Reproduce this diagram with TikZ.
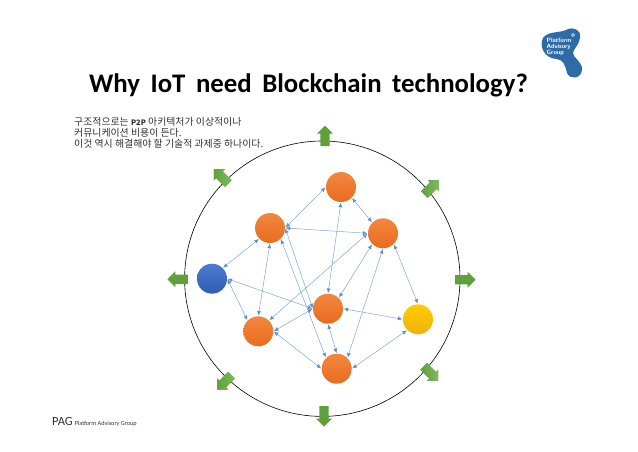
\documentclass[tikz,border=0pt]{standalone}
\usepackage{fontspec}
\setmainfont{Carlito}
\newfontfamily\krfont{Noto Sans CJK KR}
\usetikzlibrary{arrows.meta,shapes.arrows}
\definecolor{LinkClr}{RGB}{124,168,212}
\definecolor{TipClr}{RGB}{92,146,204}
\definecolor{OrangeTopClr}{RGB}{243,135,62}
\definecolor{OrangeLowClr}{RGB}{232,108,32}
\definecolor{BlueTopClr}{RGB}{76,124,208}
\definecolor{BlueLowClr}{RGB}{46,92,176}
\definecolor{GoldTopClr}{RGB}{255,204,0}
\definecolor{GoldLowClr}{RGB}{240,178,16}
\definecolor{GreenClr}{RGB}{96,160,58}
\definecolor{GreenTipClr}{RGB}{126,186,98}
\definecolor{LogoClr}{RGB}{46,108,168}
\definecolor{NoteClr}{RGB}{50,50,50}
\tikzset{
  peer/.style={circle,minimum size=30pt,inner sep=0pt,top color=OrangeTopClr,bottom color=OrangeLowClr},
  link/.style={draw=LinkClr,line width=.5pt,{Latex[length=4.5pt,width=4pt,color=TipClr]}-{Latex[length=4.5pt,width=4pt,color=TipClr]},shorten >=.5pt,shorten <=.5pt},
  growarrow/.style={single arrow,inner sep=0pt,text width=0pt,text height=9pt,text depth=0pt,minimum height=20.5pt,minimum width=15.5pt,single arrow head extend=3.25pt,fill=GreenClr},
  growtilt/.style={growarrow,left color=GreenClr,right color=GreenTipClr}
}

\begin{document}
\begin{tikzpicture}[x=1pt,y=-1pt]
\useasboundingbox (0,0) rectangle (638,452);

\node (title) at (308.5,85) {\fontsize{26.8}{30}\selectfont\bfseries Why\hspace{4.5pt} IoT\hspace{4.5pt} need\hspace{4.5pt} Blockchain\hspace{4.5pt} technology?};
\node[anchor=north west,inner sep=0pt,align=left,text=NoteClr,font=\krfont\fontsize{9.9}{10.6}\selectfont] (note) at (74,117.5) {구조적으로는 {\fontsize{7.5}{10.6}\selectfont\bfseries P2P} 아키텍처가 이상적이나\\커뮤니케이션 비용이 든다.\\이것 역시 해결해야 할 기술적 과제중 하나이다.};
\node[anchor=base west,inner sep=0pt,text=NoteClr] (pag) at (52,425) {\fontsize{12.5}{14}\selectfont PAG\hspace{2pt}\fontsize{6.2}{8}\selectfont Platform Advisory Group};

\node[circle,draw=black,line width=.6pt,minimum size=275.4pt,inner sep=0pt] (ring) at (322.3,278.7) {};

\node[growarrow,rotate=90] (gUp) at (325,138.3) {};
\node[growarrow,rotate=-90] (gDown) at (324,414) {};
\node[growarrow,rotate=180] (gLeft) at (180,279.3) {};
\node[growarrow] (gRight) at (463,279.7) {};
\node[growtilt,rotate=135] (gUpLeft) at (222.7,178) {};
\node[growtilt,rotate=45] (gUpRight) at (430,189) {};
\node[growtilt,rotate=-45] (gLowRight) at (429.3,372) {};
\node[growtilt,rotate=-135] (gLowLeft) at (226,380.7) {};

\node[peer] (nTop) at (341,187) {};
\node[peer] (nLeft) at (270,228) {};
\node[peer] (nRight) at (383,233.3) {};
\node[peer,top color=BlueTopClr,bottom color=BlueLowClr] (nBlue) at (212,278.7) {};
\node[peer] (nMid) at (328,308.7) {};
\node[peer,top color=GoldTopClr,bottom color=GoldLowClr] (nGold) at (418,319.3) {};
\node[peer] (nLow) at (258.3,331.3) {};
\node[peer] (nBase) at (336.7,368.7) {};

\draw[link] (nLeft.east) -- (nTop.west);
\draw[link] (nTop.south east) -- (nRight.north west);
\draw[link] (nLeft.east) -- (nRight.west);
\draw[link] (nBlue.north east) -- (nLeft.south west);
\draw[link] (nLeft.south) -- (nLow.north);
\draw[link] (nLeft.south east) -- (nBase.north west);
\draw[link] (nLeft.east) -- (nMid.west);
\draw[link] (nTop.south) -- (nMid.north);
\draw[link] (nRight.south west) -- (nMid.north east);
\draw[link] (nRight.west) -- (nLow.north east);
\draw[link] (nRight.south) -- (nBase.north east);
\draw[link] (nRight.south east) -- (nGold.north);
\draw[link] (nBlue.east) -- (nMid.west);
\draw[link] (nBlue.east) -- (nLow.north west);
\draw[link] (nMid.west) -- (nLow.east);
\draw[link] (nMid.east) -- (nGold.west);
\draw[link] (nMid.south) -- (nBase.north);
\draw[link] (nLow.east) -- (nBase.west);
\draw[link] (nGold.south west) -- (nBase.east);

\fill[LogoClr] (543,38) .. controls (548,31) and (560,33) .. (566,30) .. controls (572,26) and (582,30) .. (580,38) .. controls (579,45) and (574,48) .. (573,53) .. controls (573,58) and (583,62) .. (582,70) .. controls (581,79) and (570,80) .. (567,73) .. controls (565,65) and (564,60) .. (556,59) .. controls (544,58) and (539,46) .. (543,38) -- cycle;
\node[circle,draw=white,line width=.4pt,minimum size=3pt,inner sep=0pt] (logoDot) at (573,35) {};
\node[anchor=west,inner sep=0pt,align=left,text=white,font=\sffamily\bfseries\fontsize{6.2}{6.3}\selectfont] (logoText) at (546.5,47) {Platform\\Advisory\\Group};
\end{tikzpicture}
\end{document}
